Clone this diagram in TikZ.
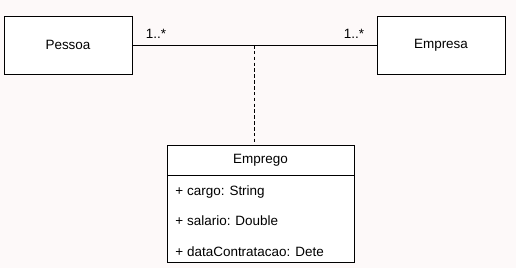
\documentclass[tikz,border=0pt]{standalone}
\usepackage{fontspec}
\setmainfont{Liberation Sans}
\usetikzlibrary{positioning,calc}
\definecolor{bgpink}{RGB}{253,249,249}

\begin{document}
\begin{tikzpicture}[x=0.03cm,y=-0.03cm,line width=0.8pt,
 every node/.style={font=\fontsize{11.5}{14}\selectfont},
 cls/.style={draw,fill=white,minimum width=3.84cm,minimum height=1.74cm,inner sep=0pt},
 part/.style={draw,fill=white,minimum width=5.61cm,inner sep=0pt},
 attr/.style={anchor=west,inner sep=0pt}]
\fill[bgpink] (0,0) rectangle (516,268);
\node[cls] (pes) at (68,45) {Pessoa};
\node[cls] (emp) at (441,45) {Empresa};
\draw (pes.east) -- (emp.west);
\coordinate (mid) at ($(pes.east)!0.5!(emp.west)$);
\node (m1) at (156,34) {1..*};
\node (m2) at (354,34) {1..*};
% classe de associacao
\node[part,minimum height=0.9cm] (job) at (260.5,160) {Emprego};
\node[part,anchor=north,minimum height=2.61cm] (jobattr) at (job.south) {};
\node[attr] (a1) at (175,192) {+ cargo: String};
\node[attr] (a2) at (175,221) {+ salario: Double};
\node[attr] (a3) at (175,252) {+ dataContratacao: Dete};
\draw[dash pattern=on 3pt off 2pt] (mid) -- (mid |- job.north);
\end{tikzpicture}
\end{document}
